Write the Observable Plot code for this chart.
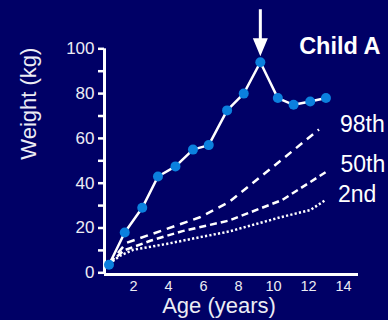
<!DOCTYPE html>
<html><head><meta charset="utf-8">
<script src="https://cdn.jsdelivr.net/npm/d3@7"></script>
<script src="https://cdn.jsdelivr.net/npm/@observablehq/plot@0.6"></script>
<style>
html,body{margin:0;padding:0;background:#000066;}
#chart svg{display:block}
</style></head><body><div id="chart"></div>
<script>
// Child A measurements
const childAges = [0.6, 1.5, 2.5, 3.4, 4.4, 5.4, 6.3, 7.35, 8.3, 9.25, 10.25, 11.15, 12.1, 13.0];
const childWeights = [3.6, 18, 29, 43, 47.5, 55, 57, 72.5, 80, 94, 78, 75, 76.5, 78];
// Percentile curves
const p98Ages = [0.6, 1.6, 3.9, 5.8, 7.45, 10.4, 12.6];
const p98Weights = [4, 13.4, 19.6, 24.8, 31.5, 50, 64];
const p50Ages = [0.6, 1.45, 3, 4.8, 7.45, 10.5, 13];
const p50Weights = [4, 10, 14.4, 18.6, 23.3, 32.5, 45];
const p2Ages = [0.6, 1.25, 2, 3.9, 5.8, 7.45, 10.4, 12.1, 13];
const p2Weights = [4, 7.7, 10.3, 12.9, 15.9, 18.4, 24.8, 28, 32.6];
// Ticks and labels
const xTicks = [2, 4, 6, 8, 10, 12, 14];
const yTicks = [0, 10, 20, 30, 40, 50, 60, 70, 80, 90, 100];
const yLabelled = [0, 20, 40, 60, 80, 100];
const title = "Child A";
const xTitle = "Age (years)";
const yTitle = "Weight (kg)";
const p98Label = "98th", p50Label = "50th", p2Label = "2nd";

const child = childAges.map((a, i) => ({age: a, weight: childWeights[i]}));
const p98 = p98Ages.map((a, i) => ({age: a, weight: p98Weights[i]}));
const p50 = p50Ages.map((a, i) => ({age: a, weight: p50Weights[i]}));
const p2 = p2Ages.map((a, i) => ({age: a, weight: p2Weights[i]}));
const peak = [d3.greatest(child, d => d.weight)];

const xDomain = [0.343, 14.86];
const yDomain = [-0.76, 100];
const fg = "white";
const font = "'Liberation Sans', Arial, sans-serif";

const arrowShape = {
  draw(ctx, l) {
    const hw = 1.5, headL = 18, headW = 7.5;
    ctx.moveTo(-hw, 0);
    ctx.lineTo(hw, 0);
    ctx.lineTo(hw, -(l - headL));
    ctx.lineTo(headW, -(l - headL));
    ctx.lineTo(0, -l);
    ctx.lineTo(-headW, -(l - headL));
    ctx.lineTo(-hw, -(l - headL));
    ctx.closePath();
  }
};

const chart = Plot.plot({
  width: 388,
  height: 320,
  marginLeft: 104,
  marginRight: 30,
  marginTop: 48.3,
  marginBottom: 46,
  style: {background: "#000066", color: fg, fontFamily: font, overflow: "visible"},
  x: {domain: xDomain},
  y: {domain: yDomain},
  marks: [
    Plot.axisY({ticks: yTicks, tickSize: 6, tickPadding: 4, strokeWidth: 2.5, fontSize: 17,
      tickFormat: d => yLabelled.includes(d) ? String(d) : "", label: null, fill: "#ececf4"}),
    Plot.axisX({ticks: xTicks, tickSize: 0, tickPadding: 6, fontSize: 14.5, label: null, fill: "#ececf4"}),
    Plot.ruleX([xDomain[0]], {y1: yDomain[0], y2: yDomain[1], stroke: fg, strokeWidth: 3}),
    Plot.ruleY([yDomain[0]], {x1: xDomain[0], x2: xDomain[1], stroke: fg, strokeWidth: 3}),
    Plot.line(p98, {x: "age", y: "weight", stroke: fg, strokeWidth: 2.5, strokeDasharray: "8,6", strokeLinecap: "butt"}),
    Plot.line(p50, {x: "age", y: "weight", stroke: fg, strokeWidth: 2.5, strokeDasharray: "7,4", strokeLinecap: "butt"}),
    Plot.line(p2, {x: "age", y: "weight", stroke: fg, strokeWidth: 2.5, strokeDasharray: "2.2,2.2", strokeLinecap: "butt"}),
    Plot.line(child, {x: "age", y: "weight", stroke: fg, strokeWidth: 2.5}),
    Plot.dot(child, {x: "age", y: "weight", r: 5, fill: "#0b80de", stroke: "none"}),
    Plot.vector(peak, {x: "age", y: "weight", length: 47, rotate: 180, anchor: "end", dy: -6,
      shape: arrowShape, fill: fg, stroke: "none"}),
    Plot.text([p98[p98.length - 1]], {x: "age", y: "weight", text: () => p98Label, textAnchor: "start",
      dx: 21, dy: -5, fontSize: 23, fill: fg}),
    Plot.text([p50[p50.length - 1]], {x: "age", y: "weight", text: () => p50Label, textAnchor: "start",
      dx: 14.5, dy: -7.5, fontSize: 23, fill: fg}),
    Plot.text([p2[p2.length - 1]], {x: "age", y: "weight", text: () => p2Label, textAnchor: "start",
      dx: 12, dy: -5, fontSize: 23, fill: fg}),
    Plot.text([title], {frameAnchor: "top-right", textAnchor: "end", dx: 22, dy: -11, fontSize: 23.5,
      fontWeight: "bold", fill: fg}),
    Plot.text([xTitle], {frameAnchor: "bottom", dx: -12.5, dy: 38, fontSize: 22, fill: "#ececf4"}),
    Plot.text([yTitle], {frameAnchor: "left", rotate: -90, dx: -76, dy: -2, fontSize: 22, fill: "#ececf4"})
  ]
});
document.getElementById("chart").appendChild(chart);
</script></body></html>
